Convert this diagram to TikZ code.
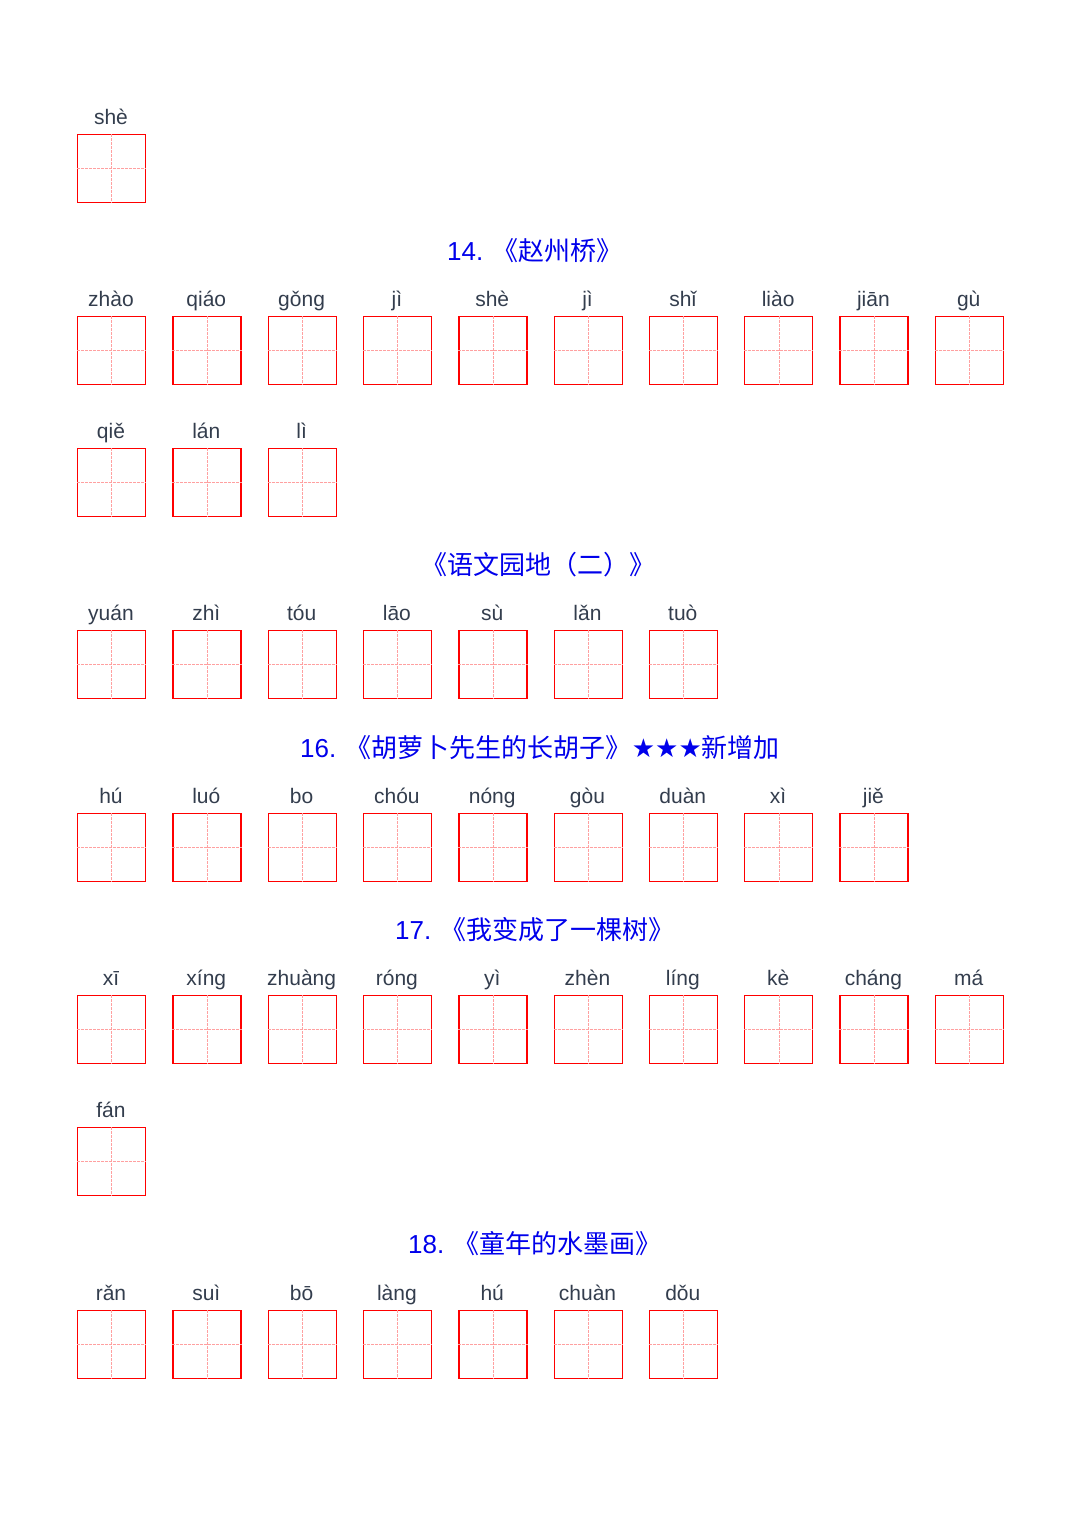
\documentclass[tikz,border=0pt]{standalone}
\usepackage{fontspec}
\setmainfont{Liberation Sans}
\newfontfamily\cjk{Noto Sans CJK SC}
\newfontfamily\symf{DejaVu Sans}
\definecolor{pyc}{HTML}{333D4D}
\definecolor{ttl}{RGB}{0,0,235}
\definecolor{gridr}{RGB}{255,160,160}
\tikzset{
  cell/.style={draw=red,line width=1.3pt,minimum width=68pt,minimum height=68pt,inner sep=0pt,anchor=north west},
  py/.style={text=pyc,font=\fontsize{21}{21}\selectfont,anchor=base,inner sep=0pt},
  ttlnode/.style={text=ttl,font=\fontsize{26}{26}\selectfont,anchor=center}
}
\newcommand\pyrow[3]{% #1 row id, #2 top y, #3 list
  \foreach \w [count=\i from 0] in {#3}{
    \node[cell] (b#1-\i) at ({77+95.3*\i},#2) {};
    \draw[gridr,dash pattern=on 3pt off 1pt,line width=0.5pt] (b#1-\i.north) -- (b#1-\i.south) (b#1-\i.west) -- (b#1-\i.east);
    \node[py] (p#1-\i) at ({111+95.3*\i},{#2-10}) {\w};
  }
}
\begin{document}
\begin{tikzpicture}[x=1pt,y=-1pt]
\useasboundingbox (0,0) rectangle (1080,1528);
\pyrow{a}{134}{shè}
\node[ttlnode] (t14) at (535,251) {14. {\cjk 《赵州桥》}};
\pyrow{b}{316}{zhào,qiáo,gǒng,jì,shè,jì,shǐ,liào,jiān,gù}
\pyrow{c}{448}{qiě,lán,lì}
\node[ttlnode] (tyw) at (538,565) {\cjk 《语文园地（二）》};
\pyrow{d}{630}{yuán,zhì,tóu,lāo,sù,lǎn,tuò}
\node[ttlnode] (t16) at (540,748) {16. {\cjk 《胡萝卜先生的长胡子》}{\symf ★★★}{\cjk 新增加}};
\pyrow{e}{813}{hú,luó,bo,chóu,nóng,gòu,duàn,xì,jiě}
\node[ttlnode] (t17) at (535,930) {17. {\cjk 《我变成了一棵树》}};
\pyrow{f}{995}{xī,xíng,zhuàng,róng,yì,zhèn,líng,kè,cháng,má}
\pyrow{g}{1127}{fán}
\node[ttlnode] (t18) at (535,1244) {18. {\cjk 《童年的水墨画》}};
\pyrow{h}{1310}{rǎn,suì,bō,làng,hú,chuàn,dǒu}
\end{tikzpicture}
\end{document}
